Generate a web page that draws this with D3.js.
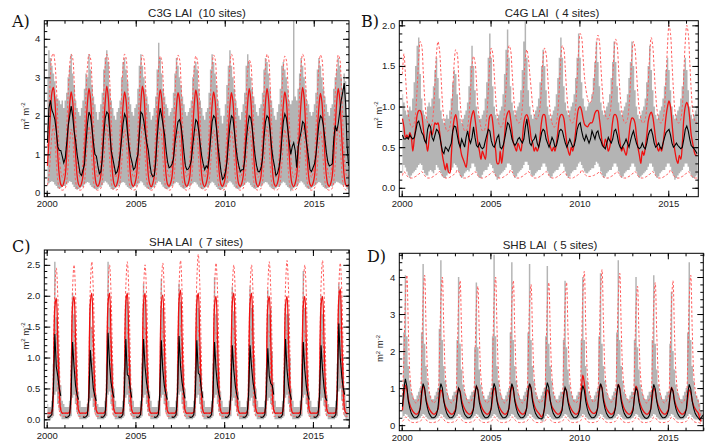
<!DOCTYPE html>
<html>
<head>
<meta charset="utf-8">
<script src="https://cdn.jsdelivr.net/npm/d3@7"></script>
<style>
  body { margin: 0; background: #fff; }
  svg { display: block; }
</style>
</head>
<body>
<svg id="chart" width="713" height="443"></svg>
<script>
// Monthly values, one row per year starting 2000 (Jan..Dec). "-" = no data.

// ---- A) C3G LAI (10 sites)
const c3gObsLo = `
0.20 0.25 0.28 0.30 0.28 0.22 0.18 0.12 0.10 0.12 0.15 0.18
0.18 0.22 0.26 0.30 0.28 0.22 0.15 0.10 0.08 0.10 0.12 0.16
0.16 0.22 0.25 0.28 0.26 0.20 0.15 0.12 0.10 0.08 0.10 0.14
0.15 0.20 0.26 0.30 0.27 0.22 0.16 0.10 0.08 0.10 0.12 0.16
0.18 0.22 0.26 0.28 0.26 0.20 0.15 0.12 0.10 0.12 0.14 0.18
0.16 0.22 0.25 0.30 0.27 0.20 0.16 0.12 0.10 0.08 0.10 0.14
0.15 0.20 0.26 0.30 0.28 0.22 0.16 0.12 0.10 0.10 0.12 0.16
0.18 0.22 0.25 0.28 0.26 0.20 0.15 0.12 0.10 0.12 0.14 0.18
0.16 0.22 0.24 0.28 0.27 0.22 0.16 0.12 0.10 0.10 0.12 0.16
0.15 0.20 0.25 0.29 0.26 0.20 0.15 0.10 0.08 0.08 0.10 0.14
0.16 0.22 0.26 0.30 0.27 0.22 0.16 0.12 0.10 0.10 0.12 0.16
0.18 0.22 0.26 0.29 0.26 0.20 0.15 0.12 0.10 0.12 0.14 0.18
0.16 0.22 0.25 0.28 0.27 0.22 0.16 0.12 0.10 0.10 0.12 0.16
0.15 0.20 0.25 0.29 0.26 0.20 0.15 0.12 0.04 0.10 0.12 0.16
0.16 0.22 0.26 0.30 0.27 0.22 0.16 0.12 0.10 0.10 0.12 0.16
0.18 0.22 0.25 0.28 0.26 0.20 0.15 0.12 0.10 0.12 0.14 0.18
0.16 0.22 0.25 0.29 0.27 0.25 0.22 0.20 0.20 0.16 0.10 0.08`;
const c3gObsHi = `
3.00 3.70 3.50 3.30 3.10 2.90 2.50 2.45 2.40 2.30 2.40 2.20
2.40 2.60 3.00 3.30 3.60 3.10 2.80 2.40 2.20 2.10 2.00 2.20
2.40 2.70 3.10 3.00 3.60 3.20 2.80 2.50 2.30 2.10 1.90 2.10
2.30 2.60 3.20 3.50 3.70 3.40 2.70 2.40 2.20 2.00 1.90 2.10
2.20 2.40 3.00 3.40 3.50 3.20 2.90 2.50 2.30 2.10 2.00 2.20
2.30 2.70 3.30 3.60 3.30 3.00 2.70 2.50 2.30 2.10 1.90 2.00
2.20 2.50 3.20 3.90 3.50 3.10 2.70 2.50 2.30 2.20 2.00 2.10
2.20 2.60 3.10 3.50 3.30 3.00 2.80 2.50 2.30 2.10 2.00 2.10
2.20 2.40 3.00 3.30 3.40 3.20 2.70 2.40 2.20 2.00 1.90 2.10
2.20 2.60 3.20 3.60 3.40 3.10 2.80 2.40 2.20 2.00 1.80 2.00
2.30 2.80 3.30 3.70 3.30 3.00 2.70 2.40 2.20 2.00 1.90 2.10
2.30 2.60 3.30 3.60 3.40 3.00 2.70 2.50 2.30 2.10 2.00 2.20
2.30 2.60 3.20 3.50 3.40 3.10 2.70 2.40 2.20 2.00 1.90 2.10
2.30 2.70 3.30 3.40 3.20 3.00 2.70 2.40 2.30 2.40 4.47 2.50
2.40 2.70 3.10 3.50 3.30 3.00 2.70 2.40 2.30 2.10 2.00 2.10
2.30 2.60 3.20 3.50 3.30 3.00 2.70 2.50 2.30 2.10 2.00 2.20
2.30 2.70 3.00 3.20 3.50 3.30 3.00 2.70 3.10 2.90 2.00 1.20`;
const c3gObsMean = `
1.30 2.20 2.40 2.15 2.05 1.90 1.60 1.20 1.10 1.10 0.95 0.78
0.90 1.30 1.75 2.00 2.25 2.00 1.60 1.35 1.00 0.75 0.50 0.45
0.60 0.75 1.30 1.80 2.10 2.00 1.70 1.30 1.00 0.95 0.70 0.50
0.55 0.90 1.50 1.95 2.10 2.05 1.60 1.10 0.90 0.70 0.50 0.55
0.70 1.00 1.40 1.80 2.05 1.95 1.55 1.20 0.95 0.80 0.60 0.65
0.85 1.00 1.55 2.10 2.05 1.85 1.55 1.30 1.10 0.75 0.50 0.42
0.45 0.80 1.45 1.90 2.20 2.00 1.75 1.50 1.10 0.80 0.65 0.68
0.75 0.90 1.30 1.60 1.85 1.90 1.75 1.45 1.05 0.70 0.60 0.62
0.70 0.85 1.25 1.60 1.90 1.85 1.60 1.25 0.95 0.75 0.60 0.70
0.65 0.90 1.40 1.85 2.00 1.95 1.65 1.20 0.85 0.55 0.35 0.40
0.55 0.80 1.30 1.75 2.00 1.95 1.60 1.20 0.90 0.70 0.55 0.60
0.60 0.85 1.35 1.75 2.00 1.95 1.70 1.30 0.95 0.70 0.55 0.55
0.65 0.90 1.45 1.85 2.00 1.95 1.65 1.20 0.90 0.70 0.45 0.50
0.65 0.90 1.40 1.85 2.05 1.95 1.65 1.30 1.00 1.20 1.30 1.10
0.65 1.20 1.40 1.60 1.85 1.80 1.50 1.20 0.90 0.60 0.55 0.65
0.75 1.00 1.40 1.80 2.00 1.95 1.75 1.40 1.05 0.80 0.70 0.72
0.75 1.40 1.75 1.60 1.80 2.10 2.40 2.60 2.85 2.30 1.20 0.70`;
const c3gModelMean = `
0.70 1.35 2.05 2.60 2.74 2.40 1.70 0.95 0.45 0.22 0.17 0.26
0.45 1.00 1.70 2.30 2.62 2.38 1.70 0.98 0.45 0.22 0.16 0.25
0.45 1.00 1.72 2.36 2.71 2.45 1.75 1.00 0.45 0.22 0.17 0.25
0.46 1.02 1.75 2.40 2.77 2.48 1.76 1.00 0.46 0.22 0.16 0.25
0.44 0.98 1.68 2.28 2.62 2.40 1.74 1.00 0.46 0.22 0.17 0.25
0.44 0.98 1.70 2.36 2.77 2.55 1.82 1.02 0.46 0.22 0.16 0.24
0.44 0.98 1.70 2.34 2.68 2.45 1.76 1.00 0.45 0.22 0.17 0.25
0.43 0.95 1.64 2.25 2.60 2.42 1.75 1.00 0.45 0.22 0.17 0.25
0.44 0.98 1.68 2.32 2.67 2.44 1.75 1.00 0.45 0.22 0.16 0.25
0.44 0.98 1.66 2.28 2.62 2.40 1.72 0.98 0.45 0.22 0.17 0.25
0.43 0.96 1.65 2.26 2.60 2.38 1.72 0.98 0.45 0.22 0.17 0.25
0.45 1.00 1.72 2.36 2.71 2.45 1.75 1.00 0.45 0.22 0.16 0.25
0.45 1.00 1.72 2.36 2.71 2.45 1.75 1.00 0.45 0.22 0.17 0.25
0.44 0.98 1.66 2.28 2.62 2.40 1.72 0.98 0.45 0.22 0.16 0.25
0.45 1.02 1.74 2.38 2.74 2.48 1.76 1.00 0.45 0.22 0.17 0.25
0.43 0.96 1.64 2.24 2.58 2.36 1.70 0.98 0.45 0.22 0.17 0.25
0.45 1.00 1.72 2.36 2.71 2.45 1.75 1.00 0.45 0.22 0.17 0.22`;
const c3gModelLo = `
0.20 0.45 0.95 1.50 1.75 1.40 0.80 0.30 0.12 0.08 0.07 0.08
0.12 0.30 0.75 1.30 1.65 1.45 0.80 0.30 0.12 0.08 0.07 0.08
0.12 0.30 0.78 1.35 1.72 1.48 0.82 0.30 0.12 0.08 0.07 0.08
0.12 0.32 0.80 1.40 1.80 1.50 0.82 0.30 0.12 0.08 0.07 0.08
0.12 0.30 0.74 1.30 1.65 1.42 0.80 0.30 0.12 0.08 0.07 0.08
0.12 0.30 0.76 1.36 1.78 1.55 0.85 0.30 0.12 0.08 0.07 0.08
0.12 0.30 0.76 1.34 1.70 1.46 0.80 0.30 0.12 0.08 0.07 0.08
0.12 0.28 0.72 1.28 1.62 1.44 0.80 0.30 0.12 0.08 0.07 0.08
0.12 0.30 0.74 1.32 1.68 1.45 0.80 0.30 0.12 0.08 0.07 0.08
0.12 0.30 0.74 1.30 1.64 1.42 0.78 0.30 0.12 0.08 0.07 0.08
0.12 0.28 0.72 1.28 1.62 1.40 0.78 0.30 0.12 0.08 0.07 0.08
0.12 0.30 0.76 1.36 1.72 1.48 0.82 0.30 0.12 0.08 0.07 0.08
0.12 0.30 0.76 1.36 1.72 1.48 0.82 0.30 0.12 0.08 0.07 0.08
0.12 0.30 0.74 1.30 1.64 1.42 0.78 0.30 0.12 0.08 0.07 0.08
0.12 0.32 0.78 1.38 1.75 1.50 0.82 0.30 0.12 0.08 0.07 0.08
0.12 0.28 0.72 1.28 1.60 1.40 0.78 0.30 0.12 0.08 0.07 0.08
0.12 0.30 0.76 1.36 1.72 1.48 0.82 0.30 0.12 0.08 0.07 0.08`;
const c3gModelHi = `
1.20 2.10 3.00 3.55 3.62 3.40 2.80 1.85 1.00 0.55 0.40 0.50
0.90 1.70 2.60 3.30 3.60 3.50 2.90 1.90 1.00 0.55 0.40 0.50
0.90 1.70 2.60 3.30 3.60 3.50 2.90 1.90 1.00 0.55 0.40 0.50
0.90 1.72 2.62 3.32 3.60 3.48 2.88 1.90 1.00 0.55 0.40 0.50
0.88 1.68 2.58 3.28 3.60 3.50 2.90 1.92 1.00 0.55 0.40 0.50
0.88 1.68 2.58 3.28 3.58 3.48 2.90 1.90 1.00 0.55 0.40 0.50
0.86 1.66 2.55 3.25 3.55 3.45 2.88 1.90 1.00 0.55 0.40 0.50
0.88 1.68 2.58 3.28 3.58 3.48 2.90 1.90 1.00 0.55 0.40 0.50
0.86 1.66 2.55 3.25 3.55 3.45 2.88 1.90 1.00 0.55 0.40 0.50
0.88 1.68 2.58 3.28 3.58 3.48 2.90 1.90 1.00 0.55 0.40 0.50
0.90 1.70 2.60 3.30 3.60 3.50 2.90 1.90 1.00 0.55 0.40 0.50
0.84 1.62 2.50 3.18 3.45 3.36 2.80 1.85 1.00 0.55 0.40 0.50
0.90 1.70 2.60 3.30 3.60 3.50 2.90 1.90 1.00 0.55 0.40 0.50
0.86 1.66 2.55 3.25 3.55 3.45 2.88 1.90 1.00 0.55 0.40 0.50
0.90 1.70 2.60 3.30 3.60 3.50 2.90 1.90 1.00 0.55 0.40 0.50
0.88 1.68 2.58 3.28 3.58 3.48 2.90 1.90 1.00 0.55 0.40 0.50
0.88 1.68 2.58 3.28 3.58 3.48 2.90 1.90 1.00 0.55 0.40 0.45`;

// ---- B) C4G LAI (4 sites), ends Aug 2016
const c4gObsLo = `
0.20 0.28 0.25 0.20 0.15 0.12 0.15 0.18 0.20 0.22 0.25 0.28
0.30 0.28 0.22 0.18 0.15 0.15 0.20 0.22 0.20 0.18 0.22 0.28
0.25 0.22 0.18 0.14 0.12 0.12 0.15 0.18 0.20 0.22 0.25 0.30
0.28 0.25 0.20 0.15 0.12 0.14 0.18 0.20 0.22 0.20 0.24 0.30
0.30 0.26 0.20 0.15 0.12 0.12 0.16 0.20 0.22 0.22 0.26 0.30
0.28 0.24 0.18 0.14 0.10 0.12 0.16 0.18 0.20 0.22 0.25 0.30
0.30 0.28 0.22 0.16 0.12 0.14 0.18 0.20 0.22 0.24 0.28 0.32
0.32 0.28 0.22 0.16 0.14 0.15 0.18 0.20 0.22 0.22 0.26 0.30
0.30 0.26 0.20 0.15 0.12 0.14 0.18 0.20 0.22 0.22 0.26 0.30
0.30 0.26 0.20 0.15 0.12 0.14 0.18 0.20 0.22 0.22 0.26 0.30
0.32 0.28 0.24 0.20 0.18 0.18 0.20 0.22 0.24 0.24 0.28 0.32
0.30 0.26 0.20 0.15 0.12 0.14 0.18 0.20 0.22 0.22 0.26 0.30
0.30 0.26 0.20 0.15 0.12 0.14 0.18 0.20 0.22 0.22 0.26 0.30
0.30 0.26 0.20 0.15 0.12 0.14 0.16 0.18 0.20 0.22 0.26 0.30
0.30 0.26 0.20 0.15 0.12 0.14 0.18 0.20 0.22 0.22 0.26 0.30
0.30 0.26 0.20 0.15 0.10 0.12 0.15 0.18 0.20 0.22 0.26 0.30
0.30 0.26 0.20 0.15 0.12 0.12 0.14 0.16`;
const c4gObsHi = `
1.15 1.05 0.95 0.90 0.95 1.00 0.95 1.10 1.30 1.50 1.75 1.85
1.40 1.10 0.95 0.90 0.85 1.00 1.05 1.00 1.10 1.25 1.45 1.60
1.35 1.10 0.95 0.85 0.80 0.85 0.90 0.85 0.95 1.10 1.30 1.45
1.40 1.15 0.95 0.85 0.80 0.85 0.90 0.95 1.05 1.25 1.50 1.75
1.50 1.20 1.00 0.90 0.85 0.85 0.90 0.95 1.10 1.30 1.60 1.90
1.60 1.25 1.00 0.90 0.85 0.90 0.95 1.00 1.15 1.40 1.70 1.95
1.60 1.25 1.05 0.95 0.90 0.95 1.00 1.05 1.20 1.45 1.80 2.05
1.60 1.20 1.00 0.90 0.85 0.90 0.95 1.00 1.10 1.30 1.50 1.70
1.50 1.20 1.00 0.90 0.85 0.90 0.95 1.00 1.15 1.35 1.60 1.85
1.60 1.25 1.05 0.95 0.90 0.95 1.00 1.05 1.15 1.35 1.60 1.90
1.60 1.30 1.10 1.00 0.95 1.00 1.05 1.05 1.15 1.35 1.55 1.80
1.55 1.25 1.05 0.95 0.90 0.95 1.00 1.05 1.15 1.35 1.55 1.80
1.55 1.25 1.05 0.95 0.90 0.95 1.00 1.05 1.15 1.35 1.55 1.80
1.50 1.20 1.00 0.90 0.85 0.90 0.95 1.00 1.10 1.30 1.50 1.75
1.45 1.20 1.00 0.90 0.85 0.90 0.95 1.00 1.10 1.25 1.45 1.60
1.45 1.20 1.00 0.90 0.85 0.90 0.95 1.00 1.10 1.25 1.45 1.60
1.45 1.20 1.00 0.90 0.85 0.90 0.95 1.00`;
const c4gObsMean = `
0.65 0.60 0.60 0.62 0.60 0.65 0.62 0.60 0.62 0.70 0.80 0.82
0.75 0.68 0.65 0.58 0.55 0.72 0.78 0.75 0.62 0.58 0.65 0.72
0.70 0.65 0.55 0.45 0.42 0.50 0.48 0.45 0.50 0.55 0.70 0.76
0.75 0.65 0.55 0.50 0.60 0.55 0.50 0.62 0.70 0.60 0.55 0.62
0.75 0.62 0.52 0.50 0.55 0.50 0.48 0.50 0.58 0.65 0.72 0.70
0.58 0.52 0.50 0.55 0.62 0.65 0.50 0.48 0.52 0.60 0.70 0.80
0.78 0.70 0.60 0.55 0.52 0.55 0.60 0.62 0.58 0.55 0.60 0.75
0.85 0.70 0.55 0.52 0.58 0.60 0.65 0.55 0.50 0.58 0.68 0.72
0.70 0.60 0.55 0.50 0.55 0.62 0.58 0.50 0.52 0.60 0.70 0.72
0.70 0.62 0.55 0.50 0.55 0.60 0.55 0.50 0.52 0.60 0.72 0.78
0.80 0.70 0.62 0.58 0.65 0.60 0.55 0.60 0.70 0.65 0.60 0.68
0.70 0.62 0.58 0.52 0.50 0.48 0.55 0.62 0.58 0.55 0.60 0.70
0.72 0.65 0.55 0.50 0.48 0.52 0.55 0.60 0.55 0.50 0.58 0.65
0.70 0.62 0.55 0.50 0.48 0.50 0.55 0.50 0.48 0.55 0.65 0.70
0.72 0.65 0.55 0.50 0.52 0.55 0.50 0.48 0.55 0.62 0.68 0.70
0.72 0.65 0.55 0.50 0.52 0.55 0.52 0.50 0.48 0.50 0.60 0.72
0.76 0.70 0.60 0.52 0.50 0.48 0.45 0.42`;
const c4gModelMean = `
0.85 0.75 0.62 0.65 0.60 0.68 0.62 0.45 0.60 0.75 0.90 0.95
0.95 0.90 0.75 0.60 0.55 0.45 0.60 0.70 0.65 0.72 0.80 0.78
0.80 0.70 0.55 0.40 0.30 0.22 0.30 0.20 0.18 0.40 0.70 0.85
0.90 0.80 0.60 0.50 0.40 0.35 0.30 0.25 0.40 0.60 0.80 0.90
0.95 0.85 0.70 0.55 0.45 0.35 0.45 0.40 0.35 0.55 0.75 0.88
0.90 0.80 0.60 0.45 0.30 0.30 0.45 0.30 0.45 0.65 0.85 0.92
0.95 0.85 0.70 0.55 0.50 0.45 0.55 0.50 0.45 0.60 0.80 0.88
0.90 0.85 0.75 0.60 0.55 0.45 0.50 0.45 0.50 0.65 0.82 0.90
0.90 0.80 0.65 0.55 0.50 0.45 0.50 0.45 0.55 0.70 0.85 0.90
0.90 0.85 0.70 0.55 0.45 0.40 0.50 0.45 0.55 0.70 0.88 0.98
1.00 0.95 0.85 0.78 0.76 0.75 0.78 0.80 0.80 0.85 0.92 0.95
0.95 0.85 0.70 0.55 0.50 0.60 0.55 0.45 0.50 0.65 0.82 0.90
0.90 0.85 0.70 0.55 0.45 0.50 0.45 0.40 0.50 0.65 0.80 0.86
0.85 0.80 0.65 0.50 0.40 0.30 0.45 0.40 0.50 0.65 0.82 0.90
0.93 0.88 0.75 0.60 0.50 0.45 0.50 0.45 0.55 0.70 0.88 1.00
1.07 1.00 0.80 0.60 0.45 0.35 0.30 0.40 0.35 0.55 0.85 1.00
1.05 1.00 0.85 0.65 0.55 0.45 0.40 0.40`;
const c4gModelLo = `
0.15 0.20 0.18 0.15 0.13 0.12 0.12 0.12 0.13 0.14 0.15 0.17
0.18 0.20 0.18 0.15 0.13 0.12 0.12 0.12 0.13 0.14 0.15 0.17
0.18 0.20 0.18 0.15 0.13 0.12 0.12 0.12 0.13 0.14 0.15 0.17
0.18 0.22 0.20 0.16 0.13 0.12 0.12 0.12 0.13 0.14 0.15 0.17
0.18 0.20 0.18 0.15 0.13 0.12 0.12 0.12 0.13 0.14 0.15 0.17
0.18 0.20 0.18 0.15 0.13 0.12 0.12 0.12 0.13 0.14 0.15 0.17
0.18 0.22 0.20 0.16 0.13 0.12 0.12 0.12 0.13 0.14 0.15 0.17
0.18 0.20 0.18 0.15 0.13 0.12 0.12 0.12 0.13 0.14 0.15 0.17
0.18 0.20 0.18 0.15 0.13 0.12 0.12 0.12 0.13 0.14 0.15 0.17
0.18 0.20 0.18 0.15 0.13 0.12 0.12 0.12 0.13 0.14 0.15 0.17
0.18 0.22 0.20 0.17 0.15 0.14 0.14 0.14 0.15 0.15 0.16 0.17
0.18 0.20 0.18 0.15 0.13 0.12 0.12 0.12 0.13 0.14 0.15 0.17
0.18 0.20 0.18 0.15 0.13 0.12 0.12 0.12 0.13 0.14 0.15 0.17
0.18 0.20 0.18 0.15 0.13 0.12 0.12 0.12 0.13 0.14 0.15 0.17
0.18 0.20 0.18 0.15 0.13 0.12 0.12 0.12 0.13 0.14 0.15 0.17
0.18 0.22 0.20 0.16 0.13 0.12 0.12 0.12 0.13 0.14 0.15 0.17
0.18 0.20 0.18 0.15 0.13 0.12 0.12 0.12`;
const c4gModelHi = `
1.40 1.65 1.40 1.10 0.90 0.80 0.75 0.75 0.80 0.95 1.25 1.60
1.80 1.75 1.45 1.10 0.90 0.80 0.75 0.75 0.80 0.95 1.30 1.65
1.80 1.70 1.40 1.05 0.85 0.75 0.70 0.70 0.75 0.90 1.20 1.55
1.70 1.65 1.35 1.05 0.85 0.75 0.70 0.70 0.75 0.90 1.20 1.50
1.62 1.55 1.30 1.00 0.85 0.75 0.70 0.70 0.75 0.90 1.20 1.55
1.72 1.65 1.40 1.10 0.90 0.80 0.75 0.75 0.80 0.95 1.25 1.60
1.75 1.70 1.45 1.15 0.95 0.85 0.80 0.80 0.85 1.00 1.30 1.60
1.70 1.60 1.40 1.20 1.00 0.90 0.85 0.85 0.90 1.00 1.30 1.60
1.72 1.65 1.40 1.10 0.90 0.80 0.75 0.75 0.80 0.95 1.25 1.60
1.75 1.70 1.45 1.15 0.95 0.85 0.80 0.80 0.85 1.00 1.35 1.70
1.90 1.85 1.60 1.35 1.20 1.10 1.05 1.05 1.10 1.20 1.45 1.75
1.88 1.80 1.50 1.20 1.00 0.90 0.85 0.85 0.90 1.05 1.35 1.70
1.83 1.75 1.45 1.15 0.95 0.85 0.80 0.80 0.85 1.00 1.30 1.65
1.80 1.72 1.45 1.15 0.95 0.85 0.80 0.80 0.85 1.00 1.30 1.65
1.85 1.75 1.45 1.15 0.95 0.85 0.80 0.80 0.85 1.00 1.35 1.75
2.00 1.90 1.55 1.20 0.95 0.85 0.80 0.80 0.85 1.00 1.40 1.80
2.00 1.90 1.55 1.20 0.95 0.85 0.80 0.80`;

// ---- C) SHA LAI (7 sites)
const shaObsLo = `
0.00 0.00 0.00 0.02 0.05 0.40 0.45 0.25 0.15 0.05 0.00 0.00
0.00 0.00 0.00 0.02 0.05 0.35 0.40 0.25 0.12 0.05 0.00 0.00
0.00 0.00 0.00 0.02 0.04 0.30 0.35 0.20 0.12 0.05 0.00 0.00
0.00 0.00 0.00 0.02 0.05 0.40 0.45 0.25 0.15 0.05 0.00 0.00
0.00 0.00 0.00 0.02 0.05 0.35 0.40 0.25 0.12 0.05 0.00 0.00
0.00 0.00 0.00 0.02 0.05 0.35 0.40 0.25 0.12 0.05 0.00 0.00
0.00 0.00 0.00 0.02 0.05 0.35 0.40 0.25 0.12 0.05 0.00 0.00
0.00 0.00 0.00 0.02 0.05 0.40 0.45 0.25 0.15 0.05 0.00 0.00
0.00 0.00 0.00 0.02 0.05 0.35 0.40 0.25 0.12 0.05 0.00 0.00
0.00 0.00 0.00 0.02 0.05 0.35 0.40 0.25 0.12 0.05 0.00 0.00
0.00 0.00 0.00 0.02 0.05 0.30 0.35 0.22 0.12 0.05 0.00 0.00
0.00 0.00 0.00 0.02 0.05 0.30 0.35 0.22 0.12 0.05 0.00 0.00
0.00 0.00 0.00 0.02 0.05 0.30 0.35 0.25 0.20 0.10 0.00 0.00
0.00 0.00 0.00 0.02 0.05 0.35 0.40 0.25 0.12 0.05 0.00 0.00
0.00 0.00 0.00 0.02 0.05 0.35 0.40 0.25 0.12 0.05 0.00 0.00
0.00 0.00 0.00 0.02 0.05 0.30 0.35 0.22 0.12 0.05 0.00 0.00
0.00 0.00 0.00 0.02 0.05 0.45 0.50 0.30 0.15 0.05 0.00 0.00`;
const shaObsHi = `
0.25 0.20 0.20 0.30 0.90 2.55 1.65 1.40 1.00 0.55 0.30 0.25
0.20 0.20 0.20 0.30 0.80 2.05 1.70 1.20 0.80 0.45 0.30 0.20
0.20 0.20 0.20 0.25 0.70 1.85 1.50 1.00 0.70 0.40 0.25 0.20
0.20 0.20 0.20 0.30 0.90 2.55 1.80 1.30 0.90 0.50 0.30 0.20
0.20 0.20 0.20 0.30 0.80 2.00 1.90 1.30 0.90 0.50 0.30 0.20
0.20 0.20 0.20 0.30 0.90 2.20 1.90 1.20 0.80 0.45 0.30 0.20
0.20 0.20 0.20 0.30 0.90 2.28 1.80 1.10 0.80 0.45 0.30 0.20
0.20 0.20 0.20 0.30 0.90 2.20 1.90 1.30 0.85 0.50 0.30 0.20
0.20 0.20 0.20 0.30 0.80 2.00 1.80 1.20 0.80 0.45 0.30 0.20
0.20 0.20 0.20 0.30 0.90 2.30 1.70 1.10 0.80 0.45 0.30 0.20
0.20 0.20 0.20 0.30 0.80 2.15 1.75 1.20 0.80 0.45 0.30 0.20
0.20 0.20 0.20 0.30 0.80 2.15 1.80 1.85 1.00 0.50 0.30 0.20
0.20 0.20 0.20 0.30 0.80 2.10 1.70 1.80 1.10 0.60 0.30 0.20
0.20 0.20 0.20 0.30 0.80 1.90 1.70 1.70 1.00 0.50 0.30 0.20
0.20 0.20 0.20 0.30 0.90 2.40 1.80 1.20 0.80 0.45 0.30 0.20
0.20 0.20 0.20 0.30 0.80 2.00 1.70 1.10 0.65 0.40 0.25 0.20
0.20 0.20 0.20 0.30 0.90 2.20 2.00 1.40 0.90 0.50 0.30 0.20`;
const shaObsMean = `
0.04 0.03 0.05 0.08 0.45 1.38 0.85 0.70 0.50 0.38 - -
0.04 0.03 0.04 0.07 0.40 1.25 0.85 0.55 0.40 0.32 - -
0.04 0.03 0.04 0.07 0.35 1.12 0.80 0.50 0.38 0.30 - -
0.04 0.03 0.04 0.08 0.45 1.40 0.90 0.60 0.45 0.35 - -
0.04 0.03 0.04 0.08 0.42 1.30 0.72 0.70 0.48 0.35 - -
0.04 0.03 0.04 0.08 0.42 1.30 0.85 0.60 0.45 0.34 - -
0.04 0.03 0.04 0.08 0.42 1.28 0.80 0.55 0.42 0.32 - -
0.04 0.03 0.04 0.08 0.45 1.35 0.85 0.60 0.45 0.34 - -
0.04 0.03 0.04 0.08 0.42 1.28 0.75 0.72 0.50 0.35 - -
0.04 0.03 0.04 0.08 0.42 1.25 0.80 0.55 0.40 0.32 - -
0.04 0.03 0.04 0.08 0.40 1.20 0.80 0.55 0.40 0.32 - -
0.04 0.03 0.04 0.08 0.40 1.20 0.85 0.60 0.45 0.33 - -
0.04 0.03 0.04 0.08 0.40 1.15 0.70 0.58 0.55 0.40 - -
0.04 0.03 0.04 0.08 0.42 1.30 0.80 0.55 0.42 0.32 - -
0.04 0.03 0.04 0.08 0.42 1.25 0.80 0.55 0.40 0.32 - -
0.04 0.03 0.04 0.08 0.40 1.20 0.80 0.52 0.35 0.30 - -
0.04 0.03 0.04 0.08 0.48 1.55 1.00 0.70 0.50 0.40 - -`;
const shaModelMean = `
0.10 0.10 0.10 0.12 0.55 1.80 1.96 1.25 0.50 0.15 0.10 0.10
0.10 0.10 0.10 0.12 0.55 1.84 1.99 1.28 0.50 0.15 0.10 0.10
0.10 0.10 0.10 0.12 0.56 1.88 2.04 1.30 0.52 0.15 0.10 0.10
0.10 0.10 0.10 0.12 0.56 1.88 2.04 1.30 0.52 0.15 0.10 0.10
0.10 0.10 0.10 0.12 0.56 1.88 2.04 1.30 0.52 0.15 0.10 0.10
0.10 0.10 0.10 0.12 0.56 1.88 2.04 1.30 0.52 0.15 0.10 0.10
0.10 0.10 0.10 0.12 0.55 1.86 2.01 1.28 0.50 0.15 0.10 0.10
0.10 0.10 0.10 0.12 0.58 1.92 2.09 1.34 0.54 0.15 0.10 0.10
0.10 0.10 0.10 0.12 0.56 1.88 2.04 1.30 0.52 0.15 0.10 0.10
0.10 0.10 0.10 0.12 0.55 1.84 1.99 1.28 0.50 0.15 0.10 0.10
0.10 0.10 0.10 0.12 0.56 1.88 2.04 1.30 0.52 0.15 0.10 0.10
0.10 0.10 0.10 0.12 0.56 1.88 2.04 1.30 0.52 0.15 0.10 0.10
0.10 0.10 0.10 0.12 0.55 1.84 1.99 1.28 0.50 0.15 0.10 0.10
0.10 0.10 0.10 0.12 0.55 1.84 1.99 1.28 0.50 0.15 0.10 0.10
0.10 0.10 0.10 0.12 0.55 1.84 1.99 1.28 0.50 0.15 0.10 0.10
0.10 0.10 0.10 0.12 0.55 1.84 1.99 1.28 0.50 0.15 0.10 0.10
0.10 0.10 0.10 0.12 0.58 1.94 2.11 1.35 0.55 0.15 0.10 0.10`;
const shaModelLo = `
0.05 0.05 0.05 0.06 0.30 1.45 1.40 0.60 0.15 0.05 0.05 0.05
0.05 0.05 0.05 0.06 0.30 1.45 1.40 0.60 0.15 0.05 0.05 0.05
0.05 0.05 0.05 0.06 0.30 1.50 1.45 0.62 0.15 0.05 0.05 0.05
0.05 0.05 0.05 0.06 0.30 1.50 1.45 0.62 0.15 0.05 0.05 0.05
0.05 0.05 0.05 0.06 0.30 1.50 1.45 0.62 0.15 0.05 0.05 0.05
0.05 0.05 0.05 0.06 0.30 1.50 1.45 0.62 0.15 0.05 0.05 0.05
0.05 0.05 0.05 0.06 0.30 1.48 1.42 0.60 0.15 0.05 0.05 0.05
0.05 0.05 0.05 0.06 0.32 1.55 1.50 0.65 0.15 0.05 0.05 0.05
0.05 0.05 0.05 0.06 0.30 1.50 1.45 0.62 0.15 0.05 0.05 0.05
0.05 0.05 0.05 0.06 0.30 1.45 1.40 0.60 0.15 0.05 0.05 0.05
0.05 0.05 0.05 0.06 0.30 1.50 1.45 0.62 0.15 0.05 0.05 0.05
0.05 0.05 0.05 0.06 0.30 1.50 1.45 0.62 0.15 0.05 0.05 0.05
0.05 0.05 0.05 0.06 0.30 1.45 1.40 0.60 0.15 0.05 0.05 0.05
0.05 0.05 0.05 0.06 0.30 1.45 1.40 0.60 0.15 0.05 0.05 0.05
0.05 0.05 0.05 0.06 0.30 1.45 1.40 0.60 0.15 0.05 0.05 0.05
0.05 0.05 0.05 0.06 0.30 1.45 1.40 0.60 0.15 0.05 0.05 0.05
0.05 0.05 0.05 0.06 0.32 1.55 1.50 0.65 0.15 0.05 0.05 0.05`;
const shaModelHi = `
0.10 0.10 0.10 0.15 0.80 2.10 2.45 2.00 1.00 0.25 0.10 0.10
0.10 0.10 0.10 0.15 0.80 2.12 2.50 2.05 1.00 0.25 0.10 0.10
0.10 0.10 0.10 0.15 0.82 2.15 2.55 2.10 1.05 0.25 0.10 0.10
0.10 0.10 0.10 0.15 0.80 2.12 2.50 2.05 1.00 0.25 0.10 0.10
0.10 0.10 0.10 0.15 0.82 2.15 2.55 2.10 1.05 0.25 0.10 0.10
0.10 0.10 0.10 0.15 0.80 2.12 2.50 2.05 1.00 0.25 0.10 0.10
0.10 0.10 0.10 0.15 0.81 2.14 2.53 2.08 1.02 0.25 0.10 0.10
0.10 0.10 0.10 0.15 0.82 2.17 2.57 2.10 1.05 0.25 0.10 0.10
0.10 0.10 0.10 0.15 0.86 2.25 2.67 2.20 1.10 0.25 0.10 0.10
0.10 0.10 0.10 0.15 0.81 2.14 2.53 2.08 1.02 0.25 0.10 0.10
0.10 0.10 0.10 0.15 0.80 2.12 2.50 2.05 1.00 0.25 0.10 0.10
0.10 0.10 0.10 0.15 0.80 2.12 2.50 2.05 1.00 0.25 0.10 0.10
0.10 0.10 0.10 0.15 0.82 2.15 2.55 2.10 1.05 0.25 0.10 0.10
0.10 0.10 0.10 0.15 0.82 2.17 2.57 2.10 1.05 0.25 0.10 0.10
0.10 0.10 0.10 0.15 0.80 2.12 2.50 2.05 1.00 0.25 0.10 0.10
0.10 0.10 0.10 0.15 0.82 2.17 2.57 2.10 1.05 0.25 0.10 0.10
0.10 0.10 0.10 0.15 0.81 2.14 2.53 2.08 1.02 0.25 0.10 0.10`;

// ---- D) SHB LAI (5 sites), obs run to Jan 2017
const shbObsLo = `
0.20 0.25 0.30 0.28 0.22 0.18 0.15 0.15 0.15 0.15 0.15 0.18
0.20 0.25 0.30 0.28 0.22 0.18 0.15 0.15 0.15 0.15 0.15 0.18
0.20 0.25 0.30 0.28 0.22 0.18 0.15 0.15 0.15 0.15 0.15 0.18
0.20 0.25 0.30 0.28 0.22 0.18 0.15 0.15 0.15 0.15 0.15 0.18
0.20 0.25 0.30 0.28 0.22 0.18 0.15 0.15 0.15 0.15 0.15 0.18
0.20 0.25 0.30 0.28 0.22 0.18 0.15 0.15 0.15 0.15 0.15 0.18
0.20 0.25 0.30 0.28 0.22 0.18 0.15 0.15 0.15 0.15 0.15 0.18
0.20 0.25 0.30 0.28 0.22 0.18 0.15 0.15 0.15 0.15 0.12 0.10
0.18 0.25 0.30 0.28 0.22 0.18 0.15 0.15 0.15 0.15 0.15 0.18
0.20 0.25 0.30 0.28 0.22 0.18 0.15 0.15 0.15 0.15 0.15 0.18
0.20 0.25 0.30 0.28 0.22 0.18 0.15 0.15 0.15 0.15 0.15 0.18
0.20 0.25 0.30 0.28 0.22 0.18 0.15 0.15 0.15 0.15 0.15 0.18
0.20 0.25 0.30 0.28 0.22 0.18 0.15 0.15 0.15 0.15 0.15 0.18
0.20 0.25 0.30 0.28 0.22 0.18 0.15 0.15 0.15 0.15 0.15 0.18
0.20 0.25 0.30 0.28 0.22 0.18 0.15 0.15 0.15 0.15 0.15 0.18
0.20 0.25 0.30 0.28 0.22 0.18 0.15 0.15 0.15 0.15 0.15 0.18
0.20 0.25 0.30 0.28 0.22 0.18 0.15 0.15 0.15 0.12 0.10 0.10`;
const shbObsHi = `
0.90 2.50 4.05 2.40 1.60 1.20 0.90 0.80 0.70 0.70 0.80 0.90
1.00 2.50 4.35 2.20 1.60 1.20 0.90 0.80 0.70 0.70 0.80 0.90
1.00 2.60 4.45 2.30 1.60 1.20 0.90 0.80 0.70 0.70 0.80 0.90
0.90 2.30 4.00 2.20 1.50 1.10 0.90 0.80 0.70 0.70 0.80 0.90
0.90 2.10 3.85 2.10 1.50 1.10 0.90 0.80 0.70 0.70 0.80 0.90
1.00 2.40 4.60 2.40 1.60 1.20 0.90 0.80 0.70 0.70 0.80 0.90
1.00 2.50 4.40 2.30 1.60 1.20 0.90 0.80 0.70 0.70 0.80 0.90
1.00 2.50 4.35 2.30 1.60 1.20 0.90 0.80 0.70 0.70 0.80 0.90
1.00 2.40 4.30 2.20 1.60 1.20 0.90 0.80 0.70 0.70 0.80 0.90
0.90 2.30 3.90 2.10 1.50 1.10 0.90 0.80 0.70 0.70 0.80 0.90
0.90 2.30 4.00 2.30 1.60 1.20 0.90 0.80 0.70 0.70 0.80 0.90
1.00 2.40 4.10 2.20 1.60 1.20 0.90 0.80 0.70 0.70 0.80 0.90
1.00 2.50 4.45 2.30 1.60 1.20 0.90 0.80 0.70 0.70 0.80 0.90
0.90 2.30 4.00 2.10 1.50 1.10 0.90 0.80 0.70 0.70 0.80 0.90
0.90 2.30 4.05 2.20 1.50 1.10 0.90 0.80 0.70 0.70 0.80 0.90
0.90 2.20 3.60 2.00 1.50 1.10 0.90 0.80 0.70 0.70 0.80 0.90
1.00 2.50 4.40 2.30 1.60 1.20 0.90 0.80 0.70 0.60 0.40 0.35`;
const shbObsMean = `
0.50 1.00 1.25 1.05 0.65 0.45 0.32 0.25 0.20 0.20 0.22 0.28
0.45 0.90 1.12 1.00 0.65 0.45 0.32 0.25 0.20 0.20 0.22 0.28
0.45 0.90 1.12 1.00 0.65 0.45 0.32 0.25 0.20 0.20 0.22 0.28
0.40 0.80 1.00 0.90 0.60 0.42 0.30 0.24 0.20 0.20 0.22 0.28
0.42 0.85 1.05 0.95 0.62 0.44 0.32 0.25 0.20 0.20 0.22 0.28
0.45 0.90 1.13 1.00 0.65 0.45 0.32 0.25 0.20 0.20 0.22 0.28
0.45 0.90 1.12 1.00 0.65 0.45 0.32 0.25 0.20 0.20 0.22 0.28
0.45 0.90 1.12 1.00 0.65 0.45 0.32 0.25 0.20 0.18 0.17 0.20
0.45 0.92 1.15 1.02 0.66 0.45 0.32 0.25 0.20 0.20 0.22 0.28
0.40 0.82 1.02 0.92 0.62 0.44 0.32 0.25 0.20 0.20 0.22 0.28
0.42 0.85 1.07 0.95 0.64 0.45 0.32 0.25 0.20 0.20 0.22 0.28
0.45 0.90 1.12 1.00 0.65 0.45 0.32 0.25 0.20 0.20 0.22 0.28
0.45 0.88 1.10 0.98 0.65 0.45 0.32 0.25 0.20 0.20 0.22 0.28
0.40 0.80 1.00 0.92 0.62 0.44 0.32 0.25 0.20 0.18 0.20 0.26
0.44 0.88 1.10 0.98 0.65 0.45 0.32 0.25 0.20 0.20 0.22 0.28
0.40 0.80 1.00 0.92 0.62 0.44 0.32 0.25 0.20 0.20 0.22 0.28
0.44 0.88 1.10 0.98 0.65 0.45 0.32 0.25 0.20 0.15 0.20 0.25
0.30`;
const shbModelMean = `
0.40 0.80 1.08 0.95 0.70 0.55 0.45 0.38 0.33 0.30 0.30 0.35
0.45 0.78 1.05 0.95 0.70 0.55 0.45 0.38 0.33 0.30 0.30 0.35
0.42 0.72 0.95 0.88 0.66 0.52 0.44 0.38 0.33 0.30 0.30 0.35
0.44 0.75 1.00 0.92 0.68 0.54 0.45 0.38 0.33 0.30 0.30 0.35
0.45 0.78 1.05 0.95 0.70 0.55 0.45 0.38 0.33 0.30 0.30 0.35
0.44 0.75 1.00 0.92 0.68 0.54 0.45 0.38 0.33 0.30 0.30 0.35
0.45 0.78 1.05 0.95 0.70 0.55 0.45 0.38 0.33 0.30 0.30 0.35
0.46 0.82 1.10 1.00 0.72 0.56 0.45 0.38 0.33 0.28 0.22 0.28
0.42 0.72 0.95 0.88 0.66 0.52 0.44 0.38 0.33 0.30 0.30 0.35
0.44 0.75 1.00 0.92 0.68 0.54 0.45 0.38 0.33 0.30 0.30 0.35
0.50 0.95 1.35 1.15 0.80 0.60 0.48 0.40 0.35 0.32 0.32 0.36
0.46 0.82 1.10 1.00 0.72 0.56 0.45 0.38 0.33 0.30 0.30 0.35
0.46 0.82 1.10 1.00 0.72 0.56 0.45 0.38 0.33 0.30 0.30 0.35
0.45 0.78 1.05 0.95 0.70 0.55 0.45 0.38 0.33 0.30 0.30 0.35
0.44 0.75 1.00 0.92 0.68 0.54 0.45 0.38 0.33 0.30 0.30 0.35
0.44 0.76 1.02 0.93 0.68 0.54 0.45 0.38 0.33 0.30 0.30 0.35
0.42 0.72 0.95 0.88 0.66 0.52 0.44 0.38 0.33 0.20 0.10`;
const shbModelLo = `
0.10 0.15 0.22 0.20 0.15 0.10 0.08 0.07 0.07 0.07 0.08 0.09
0.10 0.15 0.22 0.20 0.15 0.10 0.08 0.07 0.07 0.07 0.08 0.09
0.10 0.15 0.22 0.20 0.15 0.10 0.08 0.07 0.07 0.07 0.08 0.09
0.10 0.15 0.22 0.20 0.15 0.10 0.08 0.07 0.07 0.07 0.08 0.09
0.10 0.15 0.22 0.20 0.15 0.10 0.08 0.07 0.07 0.07 0.08 0.09
0.10 0.15 0.22 0.20 0.15 0.10 0.08 0.07 0.07 0.07 0.08 0.09
0.10 0.15 0.22 0.20 0.15 0.10 0.08 0.07 0.07 0.07 0.08 0.09
0.10 0.15 0.22 0.20 0.15 0.10 0.08 0.07 0.07 0.07 0.08 0.09
0.10 0.15 0.22 0.20 0.15 0.10 0.08 0.07 0.07 0.07 0.08 0.09
0.10 0.15 0.22 0.20 0.15 0.10 0.08 0.07 0.07 0.07 0.08 0.09
0.10 0.15 0.25 0.22 0.15 0.10 0.08 0.07 0.07 0.07 0.08 0.09
0.10 0.15 0.22 0.20 0.15 0.10 0.08 0.07 0.07 0.07 0.08 0.09
0.10 0.15 0.22 0.20 0.15 0.10 0.08 0.07 0.07 0.07 0.08 0.09
0.10 0.15 0.22 0.20 0.15 0.10 0.08 0.07 0.07 0.07 0.08 0.09
0.10 0.15 0.22 0.20 0.15 0.10 0.08 0.07 0.07 0.07 0.08 0.09
0.10 0.15 0.22 0.20 0.15 0.10 0.08 0.07 0.07 0.07 0.08 0.09
0.10 0.15 0.22 0.20 0.15 0.10 0.08 0.07 0.07 0.06 0.05`;
const shbModelHi = `
0.80 1.80 3.40 4.05 2.60 1.40 0.95 0.75 0.65 0.60 0.62 0.70
0.80 1.80 3.40 4.05 2.60 1.40 0.95 0.75 0.65 0.60 0.62 0.70
0.80 1.80 3.35 4.00 2.55 1.40 0.95 0.75 0.65 0.60 0.62 0.70
0.80 1.75 3.30 3.90 2.50 1.40 0.95 0.75 0.65 0.60 0.62 0.70
0.80 1.70 3.20 3.75 2.45 1.35 0.95 0.75 0.65 0.60 0.62 0.70
0.80 1.80 3.35 4.00 2.55 1.40 0.95 0.75 0.65 0.60 0.62 0.70
0.80 1.75 3.30 3.90 2.50 1.40 0.95 0.75 0.65 0.60 0.62 0.70
0.80 1.70 3.25 3.80 2.45 1.35 0.95 0.75 0.65 0.60 0.62 0.70
0.80 1.72 3.25 3.85 2.50 1.40 0.95 0.75 0.65 0.60 0.62 0.70
0.80 1.72 3.25 3.85 2.50 1.40 0.95 0.75 0.65 0.60 0.62 0.70
0.85 1.85 3.50 4.15 2.65 1.45 1.00 0.80 0.70 0.62 0.64 0.72
0.85 1.90 3.55 4.20 2.70 1.45 1.00 0.80 0.70 0.62 0.64 0.72
0.85 1.85 3.45 4.10 2.60 1.45 1.00 0.80 0.70 0.62 0.64 0.72
0.80 1.65 3.15 3.75 2.40 1.35 0.95 0.75 0.65 0.60 0.62 0.70
0.80 1.70 3.25 3.85 2.50 1.40 0.95 0.75 0.65 0.60 0.62 0.70
0.80 1.75 3.30 3.90 2.50 1.40 0.95 0.75 0.65 0.60 0.62 0.70
0.80 1.80 3.40 4.05 2.60 1.40 0.95 0.75 0.65 0.40 0.15`;

const X_MAJOR = [2000, 2005, 2010, 2015];

// ------------------------------------------------------------
const svg = d3.select("#chart");

function parseSeries(text) {
  return text.trim().split(/\s+/).map(v => (v === "-" ? null : +v));
}

// month index -> decimal year at the middle of that month
function toPoints(values) {
  return values.map((v, i) => ({ t: 2000 + (i + 0.5) / 12, i, v }));
}

const panels = [
  {
    letter: "A)", title: "C3G LAI  (10 sites)",
    box: { left: 44.3, right: 349, top: 20.7, bottom: 196.7 },
    xDomain: [1999.865, 2016.98], yDomain: [-0.1, 4.47],
    yMajor: [0, 1, 2, 3, 4], yMinor: d3.range(0, 4.41, 0.2), fmt: d3.format("d"),
    lo: c3gObsLo, hi: c3gObsHi, obs: c3gObsMean,
    model: c3gModelMean, modelLo: c3gModelLo, modelHi: c3gModelHi,
    letterPos: [12, 27], titlePos: [197, 17], ylabPos: [28.5, 116]
  },
  {
    letter: "B)", title: "C4G LAI  ( 4 sites)",
    box: { left: 399.3, right: 698.3, top: 20.7, bottom: 196.7 },
    xDomain: [1999.865, 2016.69], yDomain: [-0.11, 2.057],
    yMajor: [0, 0.5, 1, 1.5, 2], yMinor: d3.range(0, 2.01, 0.1), fmt: d3.format(".1f"),
    lo: c4gObsLo, hi: c4gObsHi, obs: c4gObsMean,
    model: c4gModelMean, modelLo: c4gModelLo, modelHi: c4gModelHi,
    letterPos: [361, 27], titlePos: [552, 17], ylabPos: [381.5, 115]
  },
  {
    letter: "C)", title: "SHA LAI  ( 7 sites)",
    box: { left: 44.3, right: 349.3, top: 250, bottom: 428 },
    xDomain: [1999.865, 2017.05], yDomain: [-0.14, 2.74],
    yMajor: [0, 0.5, 1, 1.5, 2, 2.5], yMinor: d3.range(0, 2.71, 0.1), fmt: d3.format(".1f"),
    lo: shaObsLo, hi: shaObsHi, obs: shaObsMean,
    model: shaModelMean, modelLo: shaModelLo, modelHi: shaModelHi,
    letterPos: [12, 252], titlePos: [196, 246], ylabPos: [28.5, 336]
  },
  {
    letter: "D)", title: "SHB LAI  ( 5 sites)",
    box: { left: 399.3, right: 703.3, top: 253.3, bottom: 430.7 },
    xDomain: [1999.865, 2017.0], yDomain: [-0.15, 4.64],
    yMajor: [0, 1, 2, 3, 4], yMinor: d3.range(0, 4.61, 0.2), fmt: d3.format("d"),
    lo: shbObsLo, hi: shbObsHi, obs: shbObsMean,
    model: shbModelMean, modelLo: shbModelLo, modelHi: shbModelHi,
    letterPos: [367, 262], titlePos: [550, 249], ylabPos: [383.3, 348.5]
  }
];

const FONT = "'Liberation Sans', Arial, Helvetica, sans-serif";
const TICK_FONT = 9.5;

panels.forEach((p, k) => {
  const b = p.box;
  const x = d3.scaleLinear().domain(p.xDomain).range([b.left, b.right]);
  const y = d3.scaleLinear().domain(p.yDomain).range([b.bottom, b.top]);

  const g = svg.append("g");
  const clipId = "clip" + k;
  g.append("clipPath").attr("id", clipId)
    .append("rect")
      .attr("x", b.left).attr("y", b.top)
      .attr("width", b.right - b.left).attr("height", b.bottom - b.top);

  const plot = g.append("g").attr("clip-path", `url(#${clipId})`);

  // grey range of the observations, drawn as a stepped band
  const lo = parseSeries(p.lo);
  const hi = parseSeries(p.hi);
  const band = toPoints(hi).map(d => ({ ...d, lo: lo[d.i] }));
  plot.append("path")
      .datum(band)
      .attr("fill", "#b4b4b4")
      .attr("d", d3.area()
        .defined(d => d.v != null && d.lo != null)
        .x(d => x(d.t))
        .y0(d => y(d.lo))
        .y1(d => y(d.v))
        .curve(d3.curveStep));

  const smooth = d3.line()
      .defined(d => d.v != null)
      .x(d => x(d.t)).y(d => y(d.v))
      .curve(d3.curveCatmullRom.alpha(0.5));
  const straight = d3.line()
      .defined(d => d.v != null)
      .x(d => x(d.t)).y(d => y(d.v));

  // model spread (dashed)
  [p.modelLo, p.modelHi].forEach(s => {
    plot.append("path")
        .datum(toPoints(parseSeries(s)))
        .attr("fill", "none")
        .attr("stroke", "#ff5c5c")
        .attr("stroke-width", 1)
        .attr("stroke-dasharray", "2.5,2")
        .attr("d", smooth);
  });

  // model mean
  plot.append("path")
      .datum(toPoints(parseSeries(p.model)))
      .attr("fill", "none")
      .attr("stroke", "#f01010")
      .attr("stroke-width", 1.3)
      .attr("d", smooth);

  // observed mean
  plot.append("path")
      .datum(toPoints(parseSeries(p.obs)))
      .attr("fill", "none")
      .attr("stroke", "#000")
      .attr("stroke-width", 1.1)
      .attr("d", straight);

  // axes, IDL style: inward ticks on all four sides
  const yearTicks = d3.range(2000, Math.floor(p.xDomain[1]) + 1);
  const axes = g.append("g");

  const addAxis = (axis, tx, ty) => {
    const a = axes.append("g").attr("transform", `translate(${tx},${ty})`).call(axis);
    a.select(".domain").remove();
    a.selectAll("line").attr("stroke", "#000").attr("stroke-width", 1);
    a.selectAll("text").attr("fill", "#1a1a1a").attr("font-family", FONT).attr("font-size", TICK_FONT);
    return a;
  };

  // bottom
  addAxis(d3.axisBottom(x).tickValues(yearTicks).tickSize(-3).tickFormat(""), 0, b.bottom);
  addAxis(d3.axisBottom(x).tickValues(X_MAJOR).tickSize(-6).tickPadding(4).tickFormat(d3.format("d")), 0, b.bottom);
  // top
  addAxis(d3.axisTop(x).tickValues(yearTicks).tickSize(-3).tickFormat(""), 0, b.top);
  addAxis(d3.axisTop(x).tickValues(X_MAJOR).tickSize(-6).tickFormat(""), 0, b.top);
  // left
  addAxis(d3.axisLeft(y).tickValues(p.yMinor).tickSize(-3).tickFormat(""), b.left, 0);
  addAxis(d3.axisLeft(y).tickValues(p.yMajor).tickSize(-6).tickPadding(4).tickFormat(p.fmt), b.left, 0);
  // right
  addAxis(d3.axisRight(y).tickValues(p.yMinor).tickSize(-3).tickFormat(""), b.right, 0);
  addAxis(d3.axisRight(y).tickValues(p.yMajor).tickSize(-6).tickFormat(""), b.right, 0);

  g.append("rect")
      .attr("x", b.left).attr("y", b.top)
      .attr("width", b.right - b.left).attr("height", b.bottom - b.top)
      .attr("fill", "none").attr("stroke", "#000").attr("stroke-width", 1);

  // title, panel letter, unit label
  g.append("text")
      .attr("x", p.titlePos[0]).attr("y", p.titlePos[1])
      .attr("text-anchor", "middle")
      .attr("font-family", FONT).attr("font-size", 11.5).attr("fill", "#222")
      .style("white-space", "pre")
      .text(p.title);

  g.append("text")
      .attr("x", p.letterPos[0]).attr("y", p.letterPos[1])
      .attr("font-family", "'DejaVu Serif', 'Liberation Serif', serif")
      .attr("font-size", 16).attr("fill", "#111")
      .text(p.letter);

  const yl = g.append("text")
      .attr("transform", `translate(${p.ylabPos[0]},${p.ylabPos[1]}) rotate(-90)`)
      .attr("text-anchor", "middle")
      .attr("font-family", FONT).attr("font-size", TICK_FONT).attr("fill", "#222");
  yl.append("tspan").text("m");
  yl.append("tspan").attr("font-size", 6).attr("dy", -3.5).text("2");
  yl.append("tspan").attr("dy", 3.5).text(" m");
  yl.append("tspan").attr("font-size", 6).attr("dy", -3.5).text("-2");
});
</script>
</body>
</html>
